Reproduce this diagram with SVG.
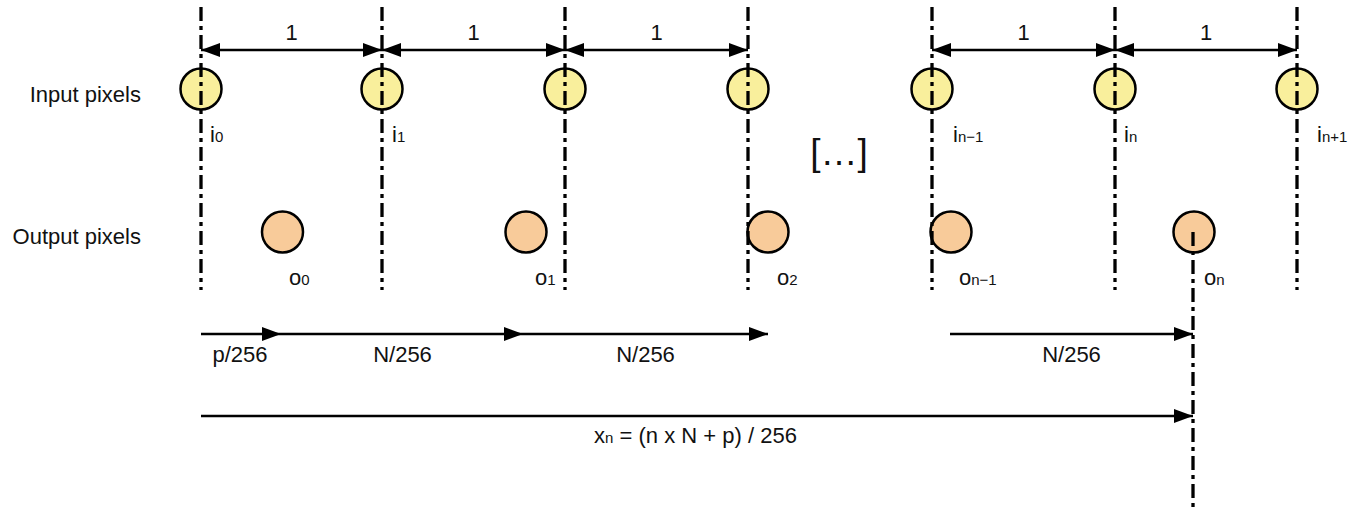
<svg xmlns="http://www.w3.org/2000/svg" width="1364" height="512" viewBox="0 0 1364 512">
<style>
  .t { font-family: "Liberation Sans", Arial, sans-serif; fill: #111; }
  .lbl { font-size: 22px; }
  .sub { font-size: 15px; }
  .grid { stroke: #000; stroke-width: 3.3; stroke-dasharray: 14 5 4 5; fill: none; }
  .arr { stroke: #000; stroke-width: 2.5; fill: none; }
  .dim { marker-start: url(#ah); marker-end: url(#ah); }
  .one { marker-end: url(#ah); }
  .inpx { fill: #F9EF9C; stroke: #000; stroke-width: 2.5; }
  .outpx { fill: #F8CB9A; stroke: #000; stroke-width: 2.5; }
</style>
<defs>
  <marker id="ah" markerUnits="userSpaceOnUse" markerWidth="20" markerHeight="14" refX="19" refY="7" orient="auto-start-reverse">
    <path d="M0,0 L19,7 L0,14 z" fill="#000"/>
  </marker>
</defs>

<text class="t lbl" x="141" y="102" text-anchor="end">Input pixels</text>
<text class="t lbl" x="141" y="244" text-anchor="end">Output pixels</text>

<g id="input-pixels">
  <g id="i0"><circle class="inpx" cx="201" cy="89" r="20.5"/><text class="t lbl" x="210" y="142">i<tspan class="sub">0</tspan></text></g>
  <g id="i1"><circle class="inpx" cx="382" cy="89" r="20.5"/><text class="t lbl" x="392" y="142">i<tspan class="sub">1</tspan></text></g>
  <g id="i2"><circle class="inpx" cx="565" cy="89" r="20.5"/></g>
  <g id="i3"><circle class="inpx" cx="748" cy="89" r="20.5"/></g>
  <g id="in-1"><circle class="inpx" cx="932" cy="89" r="20.5"/><text class="t lbl" x="953" y="142">i<tspan class="sub">n−1</tspan></text></g>
  <g id="in"><circle class="inpx" cx="1115" cy="89" r="20.5"/><text class="t lbl" x="1124" y="142">i<tspan class="sub">n</tspan></text></g>
  <g id="in+1"><circle class="inpx" cx="1297" cy="89" r="20.5"/><text class="t lbl" x="1317" y="142">i<tspan class="sub">n+1</tspan></text></g>
</g>

<g id="output-pixels">
  <g id="o0"><circle class="outpx" cx="282.5" cy="232" r="20.5"/><text class="t lbl" x="289" y="285">o<tspan class="sub">0</tspan></text></g>
  <g id="o1"><circle class="outpx" cx="526" cy="232" r="20.5"/><text class="t lbl" x="535" y="285">o<tspan class="sub">1</tspan></text></g>
  <g id="o2"><circle class="outpx" cx="768" cy="232" r="20.5"/><text class="t lbl" x="777" y="285">o<tspan class="sub">2</tspan></text></g>
  <g id="on-1"><circle class="outpx" cx="951" cy="232" r="20.5"/><text class="t lbl" x="959" y="285">o<tspan class="sub">n−1</tspan></text></g>
  <g id="on"><circle class="outpx" cx="1194" cy="232" r="20.5"/><text class="t lbl" x="1204" y="285">o<tspan class="sub">n</tspan></text></g>
</g>

<text class="t" x="839" y="165" font-size="37" text-anchor="middle">[…]</text>

<g id="connectors">
  <g id="gridlines">
    <line class="grid" x1="201" y1="7" x2="201" y2="290"/>
    <line class="grid" x1="382" y1="7" x2="382" y2="290"/>
    <line class="grid" x1="565" y1="7" x2="565" y2="290"/>
    <line class="grid" x1="748" y1="7" x2="748" y2="290"/>
    <line class="grid" x1="932" y1="7" x2="932" y2="290"/>
    <line class="grid" x1="1115" y1="7" x2="1115" y2="290"/>
    <line class="grid" x1="1297" y1="7" x2="1297" y2="290"/>
    <line class="grid" x1="1193" y1="232" x2="1193" y2="512"/>
  </g>
  <g id="unit-dims">
    <line class="arr dim" x1="201" y1="50" x2="382" y2="50"/>
    <line class="arr dim" x1="382" y1="50" x2="565" y2="50"/>
    <line class="arr dim" x1="565" y1="50" x2="748" y2="50"/>
    <line class="arr dim" x1="932" y1="50" x2="1115" y2="50"/>
    <line class="arr dim" x1="1115" y1="50" x2="1297" y2="50"/>
  </g>
  <g id="step-arrows">
    <line class="arr one" x1="201" y1="334" x2="281" y2="334"/>
    <line class="arr one" x1="281" y1="334" x2="523" y2="334"/>
    <line class="arr one" x1="523" y1="334" x2="768" y2="334"/>
    <line class="arr one" x1="950" y1="334" x2="1193" y2="334"/>
    <line class="arr one" x1="201" y1="416" x2="1193" y2="416"/>
  </g>
</g>

<g id="labels">
  <text class="t lbl" x="291.5" y="40" text-anchor="middle">1</text>
  <text class="t lbl" x="473.5" y="40" text-anchor="middle">1</text>
  <text class="t lbl" x="656.5" y="40" text-anchor="middle">1</text>
  <text class="t lbl" x="1023.5" y="40" text-anchor="middle">1</text>
  <text class="t lbl" x="1206" y="40" text-anchor="middle">1</text>
  <text class="t lbl" x="240" y="362" text-anchor="middle">p/256</text>
  <text class="t lbl" x="402.5" y="362" text-anchor="middle">N/256</text>
  <text class="t lbl" x="645.5" y="362" text-anchor="middle">N/256</text>
  <text class="t lbl" x="1071.5" y="362" text-anchor="middle">N/256</text>
  <text class="t lbl" x="695.5" y="443" text-anchor="middle">x<tspan class="sub">n</tspan> = (n x N + p) / 256</text>
</g>
</svg>
